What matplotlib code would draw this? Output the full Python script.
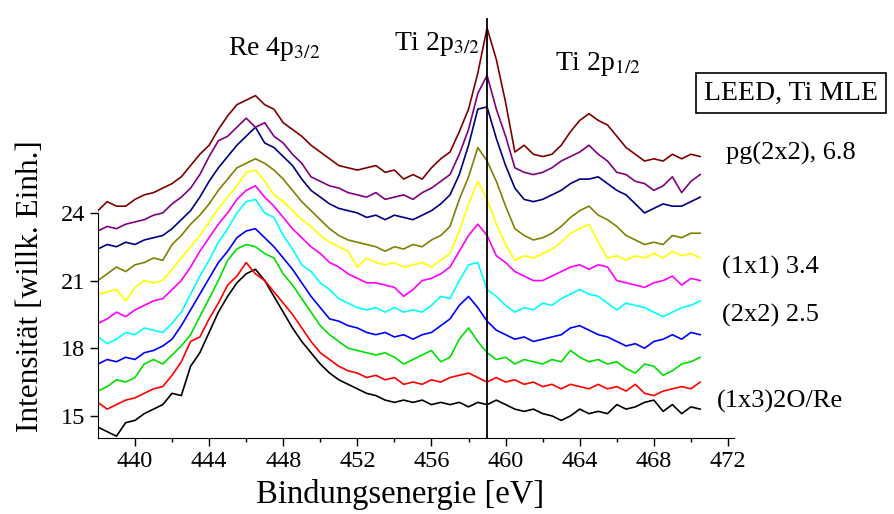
import matplotlib
matplotlib.use('Agg')
import matplotlib.pyplot as plt
import numpy as np

plt.rcParams['font.family'] = ['Liberation Serif', 'DejaVu Serif']
plt.rcParams['mathtext.fontset'] = 'stix'

energy = np.arange(438.0, 470.75, 0.5)

# spectra from bottom to top
black = [14.5, 14.3, 14.1, 14.7, 14.8, 15.1, 15.3, 15.5, 16.0, 15.9,
         17.2, 17.8, 18.7, 19.6, 20.3, 20.9, 21.3, 21.5, 21.0, 20.3,
         19.6, 18.9, 18.3, 17.8, 17.3, 16.9, 16.6, 16.4, 16.2, 16.0,
         15.9, 15.7, 15.6, 15.7, 15.6, 15.7, 15.5, 15.6, 15.5, 15.6,
         15.4, 15.6, 15.5, 15.7, 15.5, 15.3, 15.2, 15.3, 15.1, 15.0,
         14.8, 15.0, 15.3, 15.1, 15.2, 15.1, 15.5, 15.3, 15.4, 15.6,
         15.7, 15.2, 15.5, 15.1, 15.4, 15.3]
red = [15.6, 15.3, 15.5, 15.7, 15.8, 16.0, 16.2, 16.3, 16.8, 17.4,
       18.3, 18.5, 19.3, 20.0, 20.8, 21.2, 21.8, 21.3, 21.0, 20.5,
       20.0, 19.5, 18.9, 18.3, 17.8, 17.5, 17.2, 17.0, 16.9, 16.7,
       16.8, 16.6, 16.7, 16.4, 16.5, 16.4, 16.6, 16.5, 16.7, 16.8,
       16.9, 16.7, 16.5, 16.7, 16.5, 16.6, 16.4, 16.5, 16.3, 16.4,
       16.2, 16.4, 16.3, 16.2, 16.4, 16.2, 16.3, 16.1, 16.4, 16.0,
       15.9, 16.1, 16.2, 16.3, 16.2, 16.5]
green = [16.1, 16.3, 16.6, 16.5, 16.7, 17.3, 17.5, 17.3, 17.7, 18.1,
         18.6, 19.4, 20.2, 21.0, 21.9, 22.4, 22.6, 22.5, 22.2, 22.0,
         21.3, 20.8, 20.2, 19.6, 19.0, 18.6, 18.3, 18.0, 17.9, 17.8,
         17.7, 17.8, 17.6, 17.3, 17.5, 17.7, 17.9, 17.4, 17.6, 18.4,
         18.9, 18.3, 17.8, 17.5, 17.6, 17.3, 17.5, 17.4, 17.3, 17.5,
         17.4, 17.9, 17.6, 17.4, 17.5, 17.3, 17.4, 17.1, 16.9, 17.3,
         17.2, 16.8, 17.0, 17.3, 17.4, 17.6]
blue = [17.3, 17.5, 17.4, 17.6, 17.5, 17.8, 17.9, 18.1, 18.4, 19.0,
        19.7, 20.4, 21.1, 21.8, 22.3, 22.9, 23.2, 23.3, 22.9, 22.5,
        22.0, 21.5, 20.9, 20.3, 19.8, 19.3, 19.2, 19.0, 18.9, 18.7,
        18.6, 18.7, 18.5, 18.6, 18.4, 18.6, 18.7, 19.0, 19.3, 19.9,
        20.3, 19.8, 19.2, 18.8, 18.6, 18.4, 18.5, 18.3, 18.4, 18.5,
        18.6, 18.9, 19.0, 18.8, 18.6, 18.5, 18.3, 18.1, 18.2, 18.0,
        18.3, 18.4, 18.6, 18.4, 18.7, 18.6]
cyan = [18.5, 18.2, 18.4, 18.7, 18.6, 18.9, 18.8, 18.7, 19.1, 19.6,
        20.4, 21.2, 21.9, 22.7, 23.3, 24.0, 24.5, 24.6, 24.0, 23.8,
        23.0, 22.4, 21.7, 21.4, 20.9, 20.6, 20.2, 20.0, 19.8, 19.7,
        19.8, 19.6, 19.8, 19.6, 19.7, 19.6, 19.9, 20.3, 20.2, 21.0,
        21.7, 21.8, 20.6, 20.3, 19.9, 19.6, 19.8, 19.7, 20.0, 19.9,
        20.2, 20.4, 20.6, 20.4, 20.3, 20.0, 19.7, 20.0, 19.9, 19.8,
        19.6, 19.4, 19.6, 19.8, 19.9, 20.1]
magenta = [19.1, 19.3, 19.6, 19.4, 19.7, 19.9, 20.1, 20.2, 20.6, 21.0,
           21.6, 22.3, 22.9, 23.5, 24.0, 24.6, 25.0, 25.2, 24.7, 24.3,
           23.8, 23.3, 22.9, 22.5, 22.2, 21.8, 21.6, 21.3, 21.1, 20.9,
           20.9, 20.8, 20.7, 20.3, 20.6, 21.0, 21.1, 21.3, 21.6, 22.3,
           23.0, 23.5, 23.0, 22.1, 21.8, 21.4, 21.2, 21.0, 21.0, 21.2,
           21.4, 21.6, 21.7, 21.5, 21.7, 21.6, 21.0, 20.9, 20.8, 20.7,
           20.9, 21.0, 21.2, 20.8, 21.1, 21.0]
yellow = [20.4, 20.5, 20.6, 20.1, 20.7, 21.0, 20.9, 21.0, 21.5, 22.0,
          22.5, 23.0, 23.6, 24.2, 24.7, 25.2, 25.8, 25.9, 25.4, 24.8,
          24.5, 24.1, 23.7, 23.4, 23.0, 22.7, 22.5, 22.3, 21.6, 22.0,
          21.8, 21.7, 21.8, 21.6, 21.7, 21.8, 21.6, 21.9, 22.2, 23.2,
          24.4, 25.4, 24.6, 23.5, 22.6, 21.9, 22.1, 22.0, 22.2, 22.4,
          22.7, 23.1, 23.3, 23.5, 22.7, 22.0, 22.1, 21.9, 22.1, 22.0,
          22.2, 22.0, 22.3, 22.1, 22.2, 22.0]
olive = [21.0, 21.3, 21.6, 21.4, 21.7, 21.8, 22.0, 21.9, 22.6, 23.0,
         23.5, 23.9, 24.4, 25.0, 25.5, 26.0, 26.2, 26.4, 26.2, 25.9,
         25.5, 25.0, 24.5, 24.1, 23.7, 23.3, 23.0, 22.8, 22.7, 22.6,
         22.5, 22.3, 22.5, 22.4, 22.6, 22.5, 22.8, 23.0, 23.4, 24.6,
         25.6, 26.9, 26.3, 25.4, 24.3, 23.3, 23.0, 22.8, 22.9, 23.1,
         23.4, 23.8, 24.1, 24.3, 23.9, 23.7, 23.4, 23.0, 22.8, 22.6,
         22.7, 22.6, 23.0, 22.9, 23.1, 23.1]
navy = [22.4, 22.6, 22.5, 22.7, 22.6, 22.8, 22.9, 23.0, 23.3, 23.7,
        24.1, 24.7, 25.4, 26.0, 26.5, 27.0, 27.4, 27.8, 27.1, 26.9,
        26.5, 26.1, 25.5, 25.0, 24.7, 24.4, 24.2, 24.1, 24.0, 23.8,
        23.9, 23.7, 23.9, 23.8, 23.7, 23.9, 24.1, 24.4, 24.8, 25.7,
        27.0, 28.6, 28.7, 27.3, 26.1, 25.1, 24.6, 24.5, 24.6, 24.8,
        25.0, 25.3, 25.5, 25.5, 25.6, 25.3, 25.0, 24.8, 24.4, 24.0,
        24.2, 24.4, 24.3, 24.3, 24.5, 24.7]
purple = [23.2, 23.4, 23.3, 23.5, 23.6, 23.7, 23.9, 24.0, 24.4, 24.7,
          25.1, 25.7, 26.5, 27.2, 27.4, 27.8, 28.2, 27.8, 28.0, 27.4,
          27.1, 26.6, 26.2, 25.6, 25.4, 25.2, 25.1, 24.9, 24.8, 24.7,
          24.9, 24.6, 24.7, 24.8, 24.6, 24.9, 25.1, 25.4, 25.7, 26.6,
          27.7, 29.3, 30.1, 28.6, 27.4, 26.0, 25.8, 25.7, 25.8, 26.0,
          26.3, 26.5, 26.7, 27.0, 26.6, 26.3, 25.8, 25.7, 25.4, 25.3,
          25.0, 25.2, 25.6, 24.9, 25.4, 25.7]
maroon = [24.1, 24.5, 24.3, 24.3, 24.6, 24.8, 24.9, 25.1, 25.3, 25.6,
          26.1, 26.6, 27.0, 27.7, 28.3, 28.8, 29.0, 29.2, 28.8, 28.6,
          28.0, 27.7, 27.4, 27.0, 26.7, 26.4, 26.1, 26.0, 25.9, 26.0,
          26.1, 25.8, 25.9, 25.5, 25.7, 25.5, 26.0, 26.4, 26.7, 27.6,
          28.6, 30.2, 32.2, 30.8, 28.9, 26.7, 27.0, 26.6, 26.5, 26.6,
          27.0, 27.6, 28.1, 28.4, 28.1, 27.9, 27.4, 26.9, 26.6, 26.3,
          26.4, 26.3, 26.6, 26.4, 26.6, 26.5]

spectra = [black, red, green, blue, cyan, magenta, yellow, olive, navy, purple, maroon]
colors = ['#000000', '#ff0000', '#00e000', '#0000ff', '#00ffff', '#ff00ff',
          '#ffff00', '#808000', '#000080', '#800080', '#800000']

x_ticks = [440, 444, 448, 452, 456, 460, 464, 468, 472]
y_ticks = [15, 18, 21, 24]
ti_line = 459.0

fig = plt.figure(figsize=(8.95, 5.14), dpi=100)
ax = fig.add_axes([0.1094, 0.147, 0.7102, 0.824])

for s, c in zip(spectra, colors):
    ax.plot(energy, s, color=c, linewidth=1.2)

ax.axvline(ti_line, ymin=0, ymax=0.99, color='black', linewidth=1.3)

ax.set_xlim(438, 472.3)
ax.set_ylim(14.0, 32.78)
ax.set_xticks(x_ticks)
ax.set_xticks(np.arange(442, 472, 4), minor=True)
ax.set_yticks(y_ticks)
ax.tick_params(axis='both', which='major', direction='out', length=6, width=1,
               labelsize=17.5, pad=3)
ax.tick_params(axis='x', which='minor', direction='out', length=3, width=1)

for side in ('top', 'right'):
    ax.spines[side].set_visible(False)
ax.spines['left'].set_bounds(14.0, 24)
ax.spines['bottom'].set_bounds(438, 472.3)

ax.set_xlabel('Bindungsenergie [eV]', fontsize=23.5)
ax.set_ylabel('Intensität [willk. Einh.]', fontsize=22.5)
ax.xaxis.set_label_coords(0.475, -0.095)
ax.yaxis.set_label_coords(-0.084, 0.36)

ax.text(447.5, 31.25, r'Re 4p$_{\mathrm{3/2}}$', fontsize=20, ha='center', va='center')
ax.text(456.3, 31.5, r'Ti 2p$_{\mathrm{3/2}}$', fontsize=20, ha='center', va='center')
ax.text(465.0, 30.6, r'Ti 2p$_{\mathrm{1/2}}$', fontsize=20, ha='center', va='center')

fig.text(791 / 895, 1 - 93 / 514, 'LEED, Ti MLE', fontsize=20, ha='center', va='center',
         bbox=dict(boxstyle='square,pad=0.28', facecolor='white', edgecolor='black', linewidth=1.2))
fig.text(726 / 895, 1 - 153 / 514, 'pg(2x2), 6.8', fontsize=19, ha='left', va='center')
fig.text(722 / 895, 1 - 267 / 514, '(1x1) 3.4', fontsize=19, ha='left', va='center')
fig.text(722 / 895, 1 - 315 / 514, '(2x2) 2.5', fontsize=19, ha='left', va='center')
fig.text(717 / 895, 1 - 401 / 514, '(1x3)2O/Re', fontsize=19, ha='left', va='center')

fig.savefig('out.png', dpi=100, facecolor='white')
